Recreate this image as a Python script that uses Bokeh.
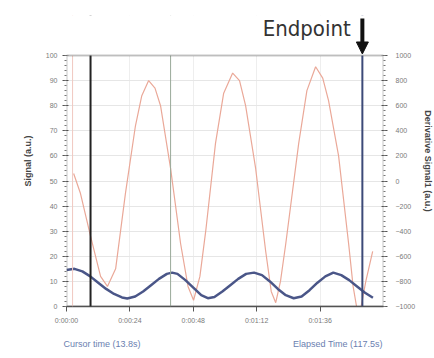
from bokeh.plotting import figure
from bokeh.models import (Range1d, LinearAxis, FixedTicker, Span, Title, Arrow,
                          NormalHead, BoxAnnotation, Label)
from bokeh.embed import file_html
from bokeh.resources import INLINE

# ---- data (time in seconds) ----
signal_t = [0, 3, 6, 9, 12, 15, 18, 21, 23, 26, 29, 32, 35, 38, 40, 42, 45, 48, 51,
            53.5, 56, 59, 62, 65, 68, 71, 74, 77, 80, 83, 86, 89, 92, 95, 98, 101,
            104, 107, 110, 113, 116]
signal_v = [14.5, 15, 14, 12, 9.5, 7, 5, 3.6, 3.2, 4, 6, 8.5, 11, 13, 13.5, 13, 10.5,
            7.5, 4.5, 3.3, 3.8, 6, 8.5, 11, 13, 13.5, 12.5, 10, 7, 4.5, 3.3, 4, 6.5,
            9.5, 12, 13.5, 12.5, 10.5, 8, 5.5, 3.5]

deriv_t = [2.7, 5.3, 9.1, 12.9, 15.5, 18.6, 22.3, 26.1, 28.5, 31.1, 33.5, 35.6, 39.4,
           43.2, 46, 48.1, 50.5, 52.7, 56.4, 59.5, 62.9, 65.5, 67.8, 71.6, 75.4, 77.5,
           79.2, 81, 83, 87.9, 91, 94.3, 97, 99.2, 103, 106.8, 108.5, 109.8, 111,
           113.3, 115.9]
deriv_v = [60, -100, -440, -760, -840, -700, -100, 440, 680, 800, 740, 600, 100,
           -500, -840, -950, -760, -400, 300, 700, 860, 800, 600, 100, -560, -880,
           -970, -800, -500, 300, 720, 910, 820, 640, 200, -500, -840, -1000, -1060,
           -800, -560]

tick_times = [0, 24, 48, 72, 96]
tick_labels = ["0:00:00", "0:00:24", "0:00:48", "0:01:12", "0:01:36"]

start_time = 2.3
cursor_time = 9.1
mid_time = 39.4
endpoint_time = 112

cursor_text = "Cursor time (13.8s)"
elapsed_text = "Elapsed Time (117.5s)"

FONT = "Liberation Sans"
NARROW = "'Liberation Sans Narrow', 'DejaVu Sans Condensed', Roboto, sans-serif"

# signal axis 0..100 occupies the lower part of the frame; the strip above holds
# the "Endpoint" marker
SIG_MAX = 100.0
FRAME_H = 291
PLOT_H = 251
y_top = SIG_MAX * FRAME_H / PLOT_H
d_top = -1000 + 2000 * FRAME_H / PLOT_H

p = figure(frame_width=317, frame_height=FRAME_H, output_backend="svg",
           toolbar_location=None, x_range=Range1d(0, 120),
           y_range=Range1d(0, y_top),
           min_border_left=66, min_border_right=35, min_border_top=15,
           min_border_bottom=48)
p.extra_y_ranges = {"deriv": Range1d(-1000, d_top)}

p.outline_line_color = None
p.background_fill_color = "white"
p.border_fill_color = "white"

p.xgrid.grid_line_color = "#eeeeee"
p.ygrid.grid_line_color = "#e6e6e6"
p.ygrid.ticker = FixedTicker(ticks=list(range(0, 101, 10)))

# bottom axis
xa = p.xaxis[0]
xa.ticker = FixedTicker(ticks=tick_times)
xa.major_label_overrides = {t: l for t, l in zip(tick_times, tick_labels)}
xa.major_label_text_font_size = "7px"
xa.major_label_text_color = "#7a7a7a"
xa.major_label_text_font = FONT
xa.axis_line_color = "#555555"
xa.axis_line_width = 1.5
xa.major_tick_line_color = "#555555"
xa.major_tick_out = 5
xa.major_tick_in = 0
xa.minor_tick_line_color = None
p.xgrid.ticker = FixedTicker(ticks=tick_times)

# left axis
ya = p.yaxis[0]
ya.ticker = FixedTicker(ticks=list(range(0, 101, 10)),
                        minor_ticks=list(range(0, 101, 2)))
ya.axis_label = "Signal (a.u.)"
ya.axis_label_text_font = FONT
ya.axis_label_text_font_style = "bold"
ya.axis_label_text_font_size = "9px"
ya.axis_label_standoff = 10
ya.major_label_text_font_size = "7px"
ya.major_label_text_color = "#7a7a7a"
ya.major_label_text_font = FONT
ya.axis_line_color = None
ya.major_tick_line_color = "#555555"
ya.minor_tick_line_color = "#777777"
ya.major_tick_out = 4
ya.minor_tick_out = 2

# right axis
ra = LinearAxis(y_range_name="deriv",
                ticker=FixedTicker(ticks=list(range(-1000, 1001, 200)),
                                   minor_ticks=list(range(-1000, 1001, 40))))
ra.axis_label = "Derivative Signal1 (a.u.)"
ra.axis_label_text_font = FONT
ra.axis_label_text_font_style = "bold"
ra.axis_label_text_font_size = "9px"
ra.axis_label_standoff = 5
ra.major_label_standoff = 8
ra.major_label_text_font_size = "7px"
ra.major_label_text_color = "#7a7a7a"
ra.major_label_text_font = FONT
ra.axis_line_color = None
ra.major_tick_line_color = "#555555"
ra.minor_tick_line_color = "#777777"
ra.major_tick_out = 4
ra.minor_tick_out = 2
p.add_layout(ra, "right")

# vertical markers
p.add_layout(Span(location=start_time, dimension="height", line_color="#f0c8c0",
                  line_width=1))
p.add_layout(Span(location=mid_time, dimension="height", line_color="#9aaa9a",
                  line_width=1))

# curves
p.line(deriv_t, deriv_v, y_range_name="deriv", line_color="#eaa898", line_width=1.2)
p.line(signal_t, signal_v, line_color="#4a5688", line_width=2.5)

p.add_layout(Span(location=cursor_time, dimension="height", line_color="#222222",
                  line_width=2))
p.add_layout(Span(location=endpoint_time, dimension="height", line_color="#3c4a78",
                  line_width=2))

# white strip above the signal range, then the plot box
p.add_layout(BoxAnnotation(bottom=SIG_MAX, fill_color="white", fill_alpha=1.0,
                           line_color=None))
p.add_layout(BoxAnnotation(left=0, right=120, bottom=0, top=SIG_MAX,
                           fill_alpha=0, line_color="#444444", line_width=2))

# endpoint arrow and label
p.add_layout(Arrow(end=NormalHead(size=12, fill_color="#111111", line_color="#111111"),
                   x_start=endpoint_time, y_start=114.7, x_end=endpoint_time,
                   y_end=SIG_MAX + 0.6, line_color="#111111", line_width=4))
p.add_layout(Label(x=107.6, y=110.8, text="Endpoint", text_align="right",
                   text_baseline="middle", text_font=NARROW, text_font_size="22px",
                   text_color="#333333"))

# bottom texts
gap = "\u00a0" * 61
p.add_layout(Title(text=cursor_text + gap + elapsed_text, align="left", offset=-3,
                   standoff=21, text_font=FONT, text_font_size="9px",
                   text_font_style="normal", text_color="#6a80b0"), "below")

open("out.html", "w").write(file_html(p, INLINE))
